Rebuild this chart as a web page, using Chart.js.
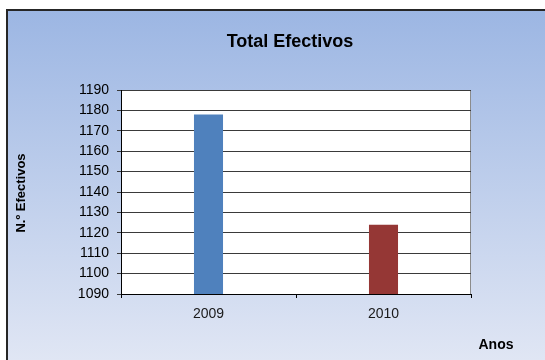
<!DOCTYPE html>
<html>
<head>
<meta charset="utf-8">
<title>Total Efectivos</title>
<script src="https://cdn.jsdelivr.net/npm/chart.js@4/dist/chart.umd.min.js"></script>
<style>
    html, body { margin: 0; padding: 0; background: #ffffff; }
    #grafico { display: block; }
</style>
</head>
<body>
<canvas id="grafico" width="545" height="360"></canvas>
<script>
// ======================
// DADOS
// ======================

const anos = ["2009", "2010"];
const efectivos = [1178, 1124];
const coresBarras = ["#4F81BD", "#953735"];

const eixoMin = 1090;
const eixoMax = 1190;
const eixoPasso = 10;

const tituloGrafico = "Total Efectivos";
const tituloY = "N.º Efectivos";
const tituloX = "Anos";

const fonte = "Arial, 'Liberation Sans', sans-serif";

// ======================
// FUNDO, MOLDURA E TITULOS
// ======================

const decoracao = {
    id: "decoracao",
    beforeDraw(chart) {
        const c = chart.ctx;
        const a = chart.chartArea;

        // fundo em degradê azul
        const grad = c.createLinearGradient(0, 10, 0, chart.height);
        grad.addColorStop(0, "#9CB6E3");
        grad.addColorStop(1, "#E0E6F4");
        c.save();
        c.fillStyle = grad;
        c.fillRect(0, 0, chart.width, chart.height);

        // borda exterior
        c.fillStyle = "#ffffff";
        c.fillRect(0, 0, chart.width, 9);
        c.fillRect(0, 0, 6, chart.height);
        c.strokeStyle = "#262626";
        c.lineWidth = 2;
        c.beginPath();
        c.moveTo(7, chart.height + 2);
        c.lineTo(7, 10);
        c.lineTo(chart.width + 2, 10);
        c.stroke();

        // area do grafico
        c.fillStyle = "#ffffff";
        c.fillRect(a.left, a.top, a.right - a.left, a.bottom - a.top);
        c.strokeStyle = "#8c8c8c";
        c.lineWidth = 1;
        c.strokeRect(a.left + 0.5, a.top + 0.5, a.right - a.left - 1, a.bottom - a.top);
        c.restore();
    },
    afterDraw(chart) {
        const c = chart.ctx;
        c.save();
        c.fillStyle = "#000000";
        c.textAlign = "center";
        c.textBaseline = "middle";

        c.font = "bold 18px " + fonte;
        c.fillText(tituloGrafico, 290, 42);

        c.font = "bold 14px " + fonte;
        c.fillText(tituloX, 496, 345);

        c.translate(21, 193);
        c.rotate(-Math.PI / 2);
        c.font = "bold 13px " + fonte;
        c.fillText(tituloY, 0, 0);
        c.restore();
    }
};

// ======================
// GRAFICO CHART.JS
// ======================

const ctx = document.getElementById("grafico");

new Chart(ctx, {

    type: "bar",

    data: {
        labels: anos,
        datasets: [{
            label: tituloGrafico,
            data: efectivos,
            backgroundColor: coresBarras,
            borderWidth: 0,
            categoryPercentage: 1,
            barPercentage: 0.166
        }]
    },

    options: {
        responsive: false,
        animation: false,
        devicePixelRatio: 1,
        layout: {
            padding: { left: 10, top: 90, right: 74, bottom: 0 }
        },
        plugins: {
            legend: { display: false },
            title: { display: false },
            tooltip: { enabled: false }
        },
        scales: {
            x: {
                afterFit(scale) { scale.height = 66; },
                grid: {
                    offset: true,
                    drawOnChartArea: false,
                    tickLength: 4,
                    color: "#000000"
                },
                border: { color: "#000000", width: 1 },
                ticks: {
                    color: "#1a1a1a",
                    padding: 8,
                    font: { family: fonte, size: 14 }
                }
            },
            y: {
                min: eixoMin,
                max: eixoMax,
                afterFit(scale) { scale.width = 111; },
                grid: {
                    color: "#3a3a3a",
                    tickLength: 4
                },
                border: { color: "#000000", width: 1 },
                ticks: {
                    stepSize: eixoPasso,
                    color: "#000000",
                    padding: 8,
                    font: { family: fonte, size: 14 },
                    callback: (valor) => String(valor)
                }
            }
        }
    },

    plugins: [decoracao]

});
</script>
</body>
</html>
